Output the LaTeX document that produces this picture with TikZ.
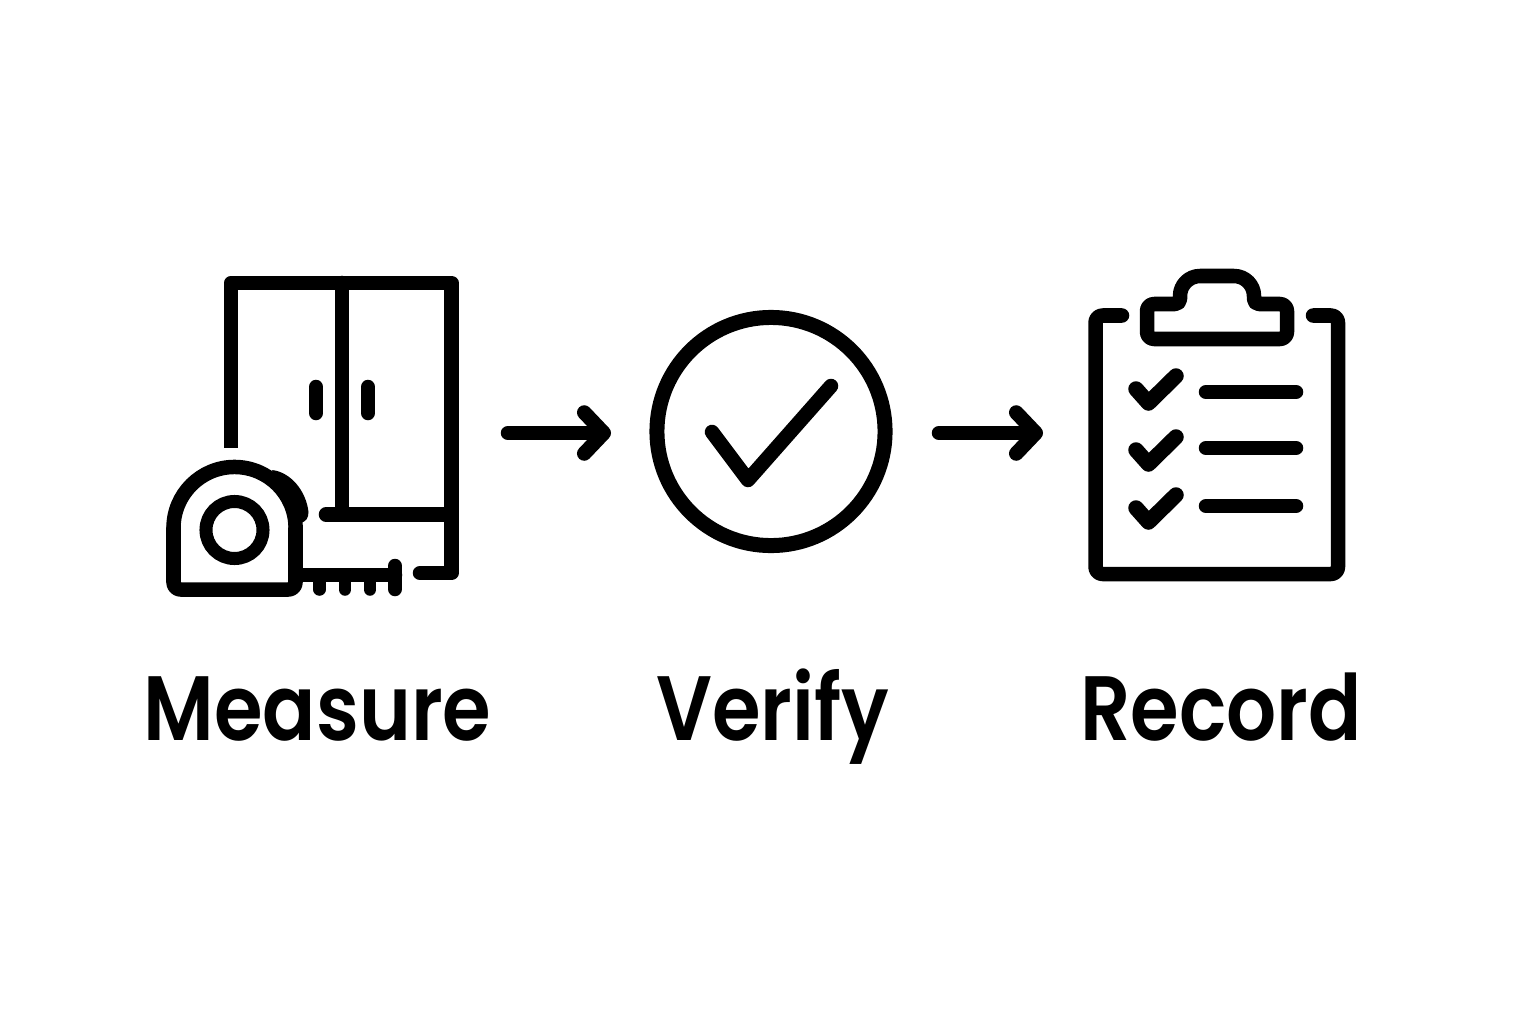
\documentclass[tikz,border=0pt]{standalone}
\usepackage{fontspec}
\setmainfont{Poppins SemiBold}[FakeStretch=0.86]
\usetikzlibrary{arrows.meta}

\tikzset{
    icon/.style={draw=black, line width=0.145cm, line cap=round, line join=round},
    flow/.style={icon, -{Straight Barb[round,length=0.195cm,width=0.41cm]}},
    steplabel/.style={anchor=base, font=\fontsize{26}{30}\selectfont}
}

\begin{document}
\begin{tikzpicture}[x=0.01cm, y=-0.01cm]
    \useasboundingbox (0,0) rectangle (1536,1024);

    % the wardrobe
    \draw[icon] (231,300) -- (231,283) -- (451.5,283) -- (451.5,573) -- (420,573);
    \draw[icon, line cap=butt] (231,295) -- (231,448);
    \draw[icon] (342,283) -- (342,514.5);
    \draw[icon] (326,514.5) -- (451.5,514.5);
    \draw[icon] (316,387) -- (316,413);
    \draw[icon] (368,387) -- (368,413);

    % the tape measure
    \fill (272,470) .. controls (290,472) and (306,490) .. (308.5,512)
        .. controls (308.5,518) and (306,522) .. (300,523) -- cycle;
    \fill[white] (173.5,528) arc[start angle=180, end angle=0, radius=0.61cm] -- (295.5,589.5) -- (173.5,589.5) -- cycle;
    \draw[icon] (173.5,528) arc[start angle=180, end angle=0, radius=0.61cm];
    \draw[icon, rounded corners=0.07cm] (295.5,528) -- (295.5,589.5) -- (173.5,589.5) -- (173.5,528);
    \node[draw, circle, line width=0.13cm, minimum size=0.57cm, inner sep=0pt] (tapeHub) at (234.5,530) {};
    \draw[icon] (295.5,575) -- (395,575);
    \draw[icon] (395,566) -- (395,589);
    \foreach \tick in {319.5,345,370}
        \draw[icon, line width=0.125cm] (\tick,575) -- (\tick,589.5);

    % the circle with the check mark
    \node[draw, circle, line width=0.15cm, minimum size=2.28cm, inner sep=0pt] (verifyCircle) at (771,431.5) {};
    \draw[icon] (712,432) -- (748,480) -- (831,386);

    % the clipboard
    \draw[icon, rounded corners=0.07cm] (1122,315.5) -- (1095.5,315.5) -- (1095.5,574) -- (1338,574) -- (1338,315.5) -- (1313,315.5);
    \draw[icon] (1217,339) [rounded corners=0.07cm] -- (1147,339) -- (1147,304) [rounded corners=0.05cm] -- (1180,304)
        [rounded corners=0.2cm] -- (1180,276) -- (1254,276) [rounded corners=0.05cm] -- (1254,304)
        [rounded corners=0.07cm] -- (1287,304) -- (1287,339) -- cycle;
    \foreach \rowY/\lineY in {403/392, 464/448, 522/506} {
        \draw[icon, line width=0.155cm] (1136,\rowY-14) -- (1148.5,\rowY) -- (1176,\rowY-27);
        \draw[icon] (1206,\lineY) -- (1296,\lineY);
    }

    % the arrows and labels
    \coordinate (firstStart) at (508,433);
    \coordinate (firstEnd) at (611,433);
    \coordinate (secondStart) at (939,433);
    \coordinate (secondEnd) at (1043,433);
    \draw[flow] (firstStart) -- (firstEnd);
    \draw[flow] (secondStart) -- (secondEnd);

    \node[steplabel] (measureLabel) at (317.5,740) {Measure};
    \node[steplabel] (verifyLabel) at (772.5,740) {Verify};
    \node[steplabel] (recordLabel) at (1221,740) {Record};
\end{tikzpicture}
\end{document}
